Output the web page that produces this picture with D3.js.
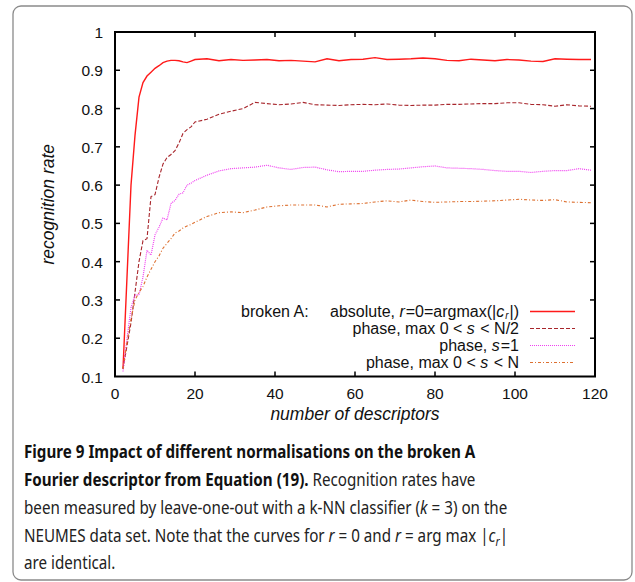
<!DOCTYPE html>
<html>
<head>
<meta charset="utf-8">
<script src="https://cdn.jsdelivr.net/npm/d3@7"></script>
<style>
  html, body { margin: 0; padding: 0; background: #fff; }
  svg { display: block; }
  .tick-lbl { font-family: "Liberation Sans", Arial, sans-serif; font-size: 15.5px; fill: #111; }
  .axis-title { font-family: "Liberation Sans", Arial, sans-serif; font-size: 17.5px; font-style: italic; fill: #111; }
  .leg { font-family: "Liberation Sans", Arial, sans-serif; font-size: 16px; fill: #111; }
  .cap { font-family: "Noto Sans", "Open Sans", sans-serif; font-size: 18.5px; fill: #222; }
</style>
</head>
<body>
<script>
// ── data ─────────────────────────────────────────────────────
const xs = [2,3,4,5,6,7,8,9,10,11,12,13,14,15,16,17,18,19,20,
  23,26,29,32,35,38,41,44,47,50,53,56,59,62,65,68,71,74,77,80,83,86,89,92,95,98,101,104,107,110,113,116,119];

const absolute = [0.12,0.36,0.60,0.73,0.83,0.868,0.885,0.895,0.905,0.912,0.92,0.924,0.926,0.926,0.925,0.922,0.92,0.924,0.928,
  0.93,0.925,0.928,0.926,0.927,0.928,0.925,0.926,0.924,0.922,0.93,0.925,0.928,0.929,0.933,0.928,0.929,0.93,0.932,0.93,0.926,0.925,0.929,0.927,0.925,0.928,0.927,0.924,0.923,0.93,0.929,0.928,0.928];

const phaseHalf = [0.12,0.18,0.24,0.32,0.40,0.455,0.46,0.57,0.575,0.62,0.655,0.672,0.68,0.69,0.71,0.735,0.745,0.752,0.765,
  0.772,0.785,0.793,0.80,0.816,0.813,0.81,0.812,0.816,0.81,0.809,0.808,0.81,0.811,0.81,0.812,0.809,0.808,0.809,0.809,0.811,0.811,0.812,0.813,0.813,0.815,0.815,0.811,0.81,0.806,0.81,0.807,0.806];

const phaseS1 = [0.113,0.20,0.28,0.313,0.313,0.36,0.43,0.417,0.47,0.49,0.514,0.509,0.552,0.56,0.576,0.58,0.60,0.605,0.612,
  0.626,0.637,0.643,0.645,0.647,0.652,0.645,0.641,0.646,0.647,0.64,0.635,0.636,0.636,0.639,0.641,0.642,0.645,0.648,0.65,0.645,0.644,0.643,0.641,0.638,0.636,0.636,0.633,0.636,0.638,0.638,0.643,0.639];

const phaseFull = [0.12,0.19,0.25,0.30,0.32,0.335,0.36,0.38,0.40,0.415,0.435,0.448,0.46,0.475,0.48,0.488,0.493,0.497,0.503,
  0.518,0.528,0.53,0.528,0.535,0.543,0.546,0.548,0.548,0.548,0.543,0.55,0.551,0.552,0.556,0.559,0.556,0.561,0.557,0.555,0.556,0.557,0.557,0.558,0.559,0.561,0.563,0.561,0.56,0.562,0.556,0.555,0.554];

const xTicks = [0,20,40,60,80,100,120];
const yTicks = [0.1,0.2,0.3,0.4,0.5,0.6,0.7,0.8,0.9,1];

const series = [
  { values: absolute,  color: '#ff1a1a', dash: null,      width: 1.4 },
  { values: phaseHalf, color: '#a8262c', dash: '4,2',     width: 1.1 },
  { values: phaseS1,   color: '#f040f0', dash: '1,1',     width: 1.2 },
  { values: phaseFull, color: '#dd7030', dash: '3,2,1,2', width: 1.1 },
];

// ── layout ───────────────────────────────────────────────────
const W = 635, H = 582;
const PL = 115, PR = 595, PT = 32, PB = 376.5;

const svg = d3.select('body').append('svg').attr('width', W).attr('height', H);

svg.append('rect')
  .attr('x', 13).attr('y', 6).attr('width', 619).attr('height', 574)
  .attr('rx', 8).attr('fill', 'none').attr('stroke', '#8a8a8a').attr('stroke-width', 1.3);

const x = d3.scaleLinear().domain([0, 120]).range([PL, PR]);
const y = d3.scaleLinear().domain([0.1, 1]).range([PB, PT]);

// tick marks (inward, all four sides)
const tickG = svg.append('g').attr('stroke', '#000').attr('stroke-width', 1.5);
xTicks.slice(1, -1).forEach(t => {
  tickG.append('line').attr('x1', x(t)).attr('x2', x(t)).attr('y1', PB).attr('y2', PB - 5);
  tickG.append('line').attr('x1', x(t)).attr('x2', x(t)).attr('y1', PT).attr('y2', PT + 5);
});
yTicks.slice(1, -1).forEach(t => {
  tickG.append('line').attr('x1', PL).attr('x2', PL + 5).attr('y1', y(t)).attr('y2', y(t));
  tickG.append('line').attr('x1', PR).attr('x2', PR - 5).attr('y1', y(t)).attr('y2', y(t));
});

// tick labels
svg.append('g').selectAll('text').data(xTicks).join('text')
  .attr('class', 'tick-lbl').attr('text-anchor', 'middle')
  .attr('x', d => x(d)).attr('y', 399).text(d => d);
svg.append('g').selectAll('text').data(yTicks).join('text')
  .attr('class', 'tick-lbl').attr('text-anchor', 'end')
  .attr('x', 103).attr('y', d => y(d) + 6).text(d => d);

// axis titles
svg.append('text').attr('class', 'axis-title').attr('text-anchor', 'middle')
  .attr('x', x(60)).attr('y', 420).text('number of descriptors');
svg.append('text').attr('class', 'axis-title').attr('text-anchor', 'middle')
  .attr('transform', `translate(54,${(PT + PB) / 2}) rotate(-90)`).text('recognition rate');

// curves
const line = d3.line().x((d, i) => x(xs[i])).y(d => y(d));
series.forEach(s => {
  svg.append('path').datum(s.values)
    .attr('d', line).attr('fill', 'none')
    .attr('stroke', s.color).attr('stroke-width', s.width)
    .attr('stroke-dasharray', s.dash);
});

// frame
svg.append('rect').attr('x', PL).attr('y', PT).attr('width', PR - PL).attr('height', PB - PT)
  .attr('fill', 'none').attr('stroke', '#000').attr('stroke-width', 2);

// ── legend ───────────────────────────────────────────────────
const legRows = [317, 334, 351, 368];
const legX = 519, sx1 = 530, sx2 = 575;

svg.append('text').attr('class', 'leg').attr('x', 241).attr('y', legRows[0]).text('broken A:');

// parts: {t, i (italic), sub (subscript)}
function legText(yy, parts) {
  const t = svg.append('text').attr('class', 'leg').attr('text-anchor', 'end').attr('x', legX).attr('y', yy);
  let prevItalic = false, prevSub = false;
  parts.forEach(p => {
    const ts = t.append('tspan').text(p.t);
    if (p.i) ts.attr('font-style', 'italic');
    if (p.sub) ts.attr('font-size', 10).attr('dy', 2);
    else if (prevSub) ts.attr('dy', -2);
    if (prevItalic) ts.attr('dx', 1);
    prevItalic = !!p.i;
    prevSub = !!p.sub;
  });
}
legText(legRows[0], [{ t: 'absolute, ' }, { t: 'r', i: true }, { t: '=0=argmax(|' }, { t: 'c', i: true }, { t: 'r', i: true, sub: true }, { t: '|)' }]);
legText(legRows[1], [{ t: 'phase, max 0 < ' }, { t: 's', i: true }, { t: ' < N/2' }]);
legText(legRows[2], [{ t: 'phase, ' }, { t: 's', i: true }, { t: '=1' }]);
legText(legRows[3], [{ t: 'phase, max 0 < ' }, { t: 's', i: true }, { t: ' < N' }]);

series.forEach((s, i) => {
  svg.append('line').attr('x1', sx1).attr('x2', sx2)
    .attr('y1', legRows[i] - 5.5).attr('y2', legRows[i] - 5.5)
    .attr('stroke', s.color).attr('stroke-width', s.width)
    .attr('stroke-dasharray', s.dash);
});

// ── caption (condensed by a horizontal scale) ────────────────
const capG = svg.append('g');
function capLine(yy, parts) {
  const t = capG.append('text').attr('class', 'cap').attr('x', 0).attr('y', yy);
  parts.forEach(p => {
    const ts = t.append('tspan').text(p.t);
    if (p.b) ts.attr('font-weight', 'bold').attr('fill', '#111');
    if (p.i) ts.attr('font-style', 'italic');
    if (p.dy) ts.attr('dy', p.dy);
    if (p.fs) ts.attr('font-size', p.fs);
  });
  return t;
}
capLine(458, [{ t: 'Figure 9 Impact of different normalisations on the broken A', b: true }]);
capLine(486, [{ t: 'Fourier descriptor from Equation (19).', b: true }, { t: ' Recognition rates have' }]);
const ref = capLine(514, [{ t: 'been measured by leave-one-out with a k-NN classifier (' }, { t: 'k', i: true }, { t: ' = 3) on the' }]);
capLine(542, [{ t: 'NEUMES data set. Note that the curves for ' }, { t: 'r', i: true }, { t: ' = 0 and ' }, { t: 'r', i: true },
  { t: ' = arg max |' }, { t: 'c', i: true }, { t: 'r', i: true, dy: 4, fs: 13 }, { t: '|', dy: -4 }]);
capLine(569, [{ t: 'are identical.' }]);

const sx = 484 / ref.node().getComputedTextLength();
capG.attr('transform', `translate(24,0) scale(${sx},1)`);
</script>
</body>
</html>
